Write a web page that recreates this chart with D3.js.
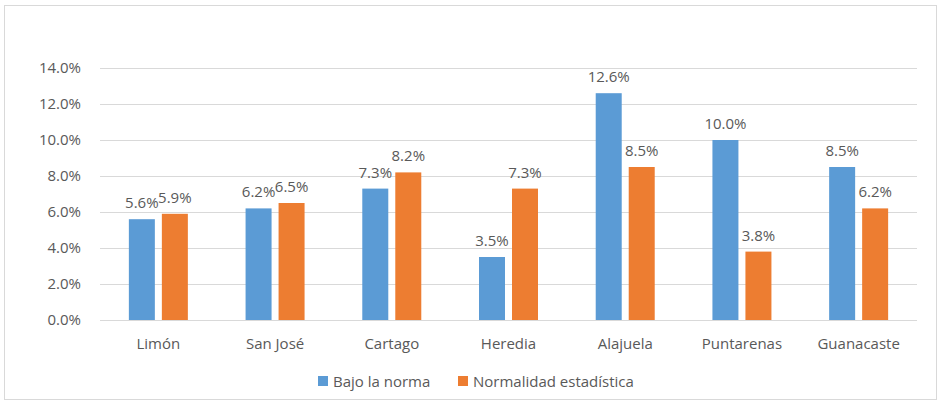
<!DOCTYPE html>
<html>
<head>
<meta charset="utf-8">
<script src="https://cdn.jsdelivr.net/npm/d3@7"></script>
<style>
  body { margin: 0; background: #fff; }
  text { font-family: "Open Sans", sans-serif; fill: #595959; }
</style>
</head>
<body>
<div id="vis"></div>
<script>
var width = 942;
var height = 406;

var categories = ["Limón", "San José", "Cartago", "Heredia", "Alajuela", "Puntarenas", "Guanacaste"];
var bajoNorma = [5.6, 6.2, 7.3, 3.5, 12.6, 10.0, 8.5];
var normalidad = [5.9, 6.5, 8.2, 7.3, 8.5, 3.8, 6.2];
var seriesNames = ["Bajo la norma", "Normalidad estadística"];
var colors = ["#5B9BD5", "#ED7D31"];
var yTicks = [0, 2, 4, 6, 8, 10, 12, 14];

var svg = d3.select('#vis').append('svg')
    .attr("width", width)
    .attr("height", height);

// chart frame
svg.append("rect")
    .attr("x", 4.5).attr("y", 5.5)
    .attr("width", 932).attr("height", 394)
    .attr("fill", "none")
    .attr("stroke", "#d9d9d9")
    .attr("stroke-width", 1);

var plot = {left: 100, right: 917, top: 68, bottom: 320};

var x = d3.scaleBand()
    .domain(categories)
    .range([plot.left, plot.right]);

var y = d3.scaleLinear()
    .domain([0, 14])
    .range([plot.bottom, plot.top]);

// gridlines + y labels
var yAxis = svg.append("g")
    .attr("transform", "translate(" + plot.left + ",0)")
    .call(d3.axisLeft(y).tickValues(yTicks)
        .tickSize(-(plot.right - plot.left))
        .tickPadding(19)
        .tickFormat(function(d){ return d.toFixed(1) + "%"; }));
yAxis.select(".domain").remove();
yAxis.selectAll(".tick line").attr("stroke", "#d9d9d9").attr("stroke-width", 1);
yAxis.selectAll(".tick text").attr("font-size", 15).attr("fill", "#595959")
    .style("font-family", "Open Sans, sans-serif");

// x labels
var xAxis = svg.append("g")
    .attr("transform", "translate(0," + plot.bottom + ")")
    .call(d3.axisBottom(x).tickSize(0).tickPadding(18));
xAxis.select(".domain").remove();
xAxis.selectAll(".tick text").attr("font-size", 15).attr("fill", "#595959")
    .style("font-family", "Open Sans, sans-serif");

var barW = 26, gap = 7;
var groups = [bajoNorma, normalidad];

groups.forEach(function(vals, s){
    var offset = s === 0 ? -(barW + gap / 2) : gap / 2;
    var g = svg.append("g");
    g.selectAll("rect")
        .data(vals)
        .enter()
        .append("rect")
        .attr("x", function(d, i){ return x(categories[i]) + x.bandwidth() / 2 + offset; })
        .attr("y", function(d){ return y(d); })
        .attr("width", barW)
        .attr("height", function(d){ return y(0) - y(d); })
        .attr("fill", colors[s]);
    g.selectAll("text")
        .data(vals)
        .enter()
        .append("text")
        .attr("x", function(d, i){ return x(categories[i]) + x.bandwidth() / 2 + offset + barW / 2; })
        .attr("y", function(d){ return y(d) - 11; })
        .attr("text-anchor", "middle")
        .attr("font-size", 15)
        .text(function(d){ return d.toFixed(1) + "%"; });
});

// legend
var legendX = [318, 458];
var legend = svg.append("g");
seriesNames.forEach(function(name, i){
    legend.append("rect")
        .attr("x", legendX[i]).attr("y", 376)
        .attr("width", 10).attr("height", 10)
        .attr("fill", colors[i]);
    legend.append("text")
        .attr("x", legendX[i] + 15).attr("y", 386.5)
        .attr("font-size", 15)
        .text(name);
});
</script>
</body>
</html>
